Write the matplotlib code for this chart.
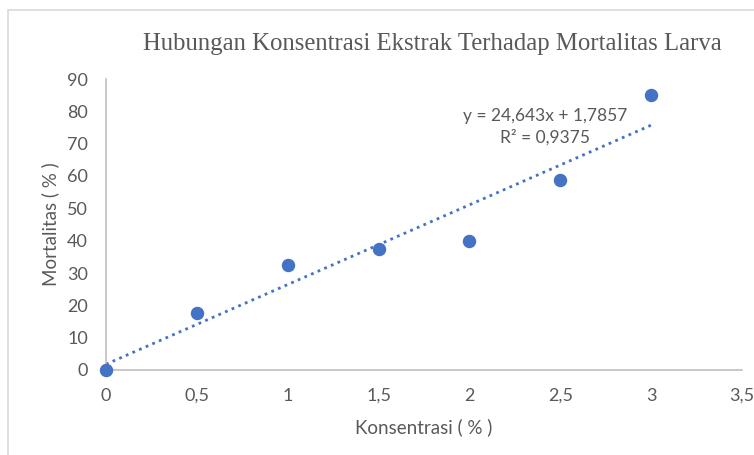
import matplotlib
matplotlib.use("Agg")
import matplotlib.pyplot as plt
import numpy as np
from matplotlib.patches import Rectangle
from matplotlib.ticker import FuncFormatter, MultipleLocator

konsentrasi = [0, 0.5, 1, 1.5, 2, 2.5, 3]
mortalitas = [0, 17.5, 32.5, 37.5, 40, 58.75, 85]

BLUE = "#4472C4"
GRAY = "#595959"
AXIS = "#BFBFBF"
SANS = ["Lato", "DejaVu Sans"]


def comma(v, _pos):
    s = f"{v:g}"
    return s.replace(".", ",")


fig = plt.figure(figsize=(7.54, 4.55), dpi=100)
fig.patches.append(Rectangle((8 / 754, -0.1), 1.2, 1 - 10 / 455 + 0.1,
                             transform=fig.transFigure, fill=False,
                             edgecolor="#D9D9D9", linewidth=1.2))
ax = fig.add_axes([106 / 754, 1 - 370 / 455, (742 - 106) / 754, (370 - 79) / 455])

# linear trend line
slope, intercept = np.polyfit(konsentrasi, mortalitas, 1)
pred = slope * np.array(konsentrasi) + intercept
r2 = 1 - np.sum((np.array(mortalitas) - pred) ** 2) / np.sum(
    (np.array(mortalitas) - np.mean(mortalitas)) ** 2)
xs = np.array([konsentrasi[0], konsentrasi[-1]])
ax.plot(xs, slope * xs + intercept, linestyle=(0, (1, 1.6)), color=BLUE,
        linewidth=2, zorder=2)

ax.scatter(konsentrasi, mortalitas, s=75, color=BLUE, zorder=3, clip_on=False)

ax.set_xlim(0, 3.5)
ax.set_ylim(0, 90)
ax.xaxis.set_major_locator(MultipleLocator(0.5))
ax.yaxis.set_major_locator(MultipleLocator(10))
ax.xaxis.set_major_formatter(FuncFormatter(comma))
ax.yaxis.set_major_formatter(FuncFormatter(comma))
for side in ["top", "right"]:
    ax.spines[side].set_visible(False)
for side in ["left", "bottom"]:
    ax.spines[side].set_color(AXIS)
    ax.spines[side].set_linewidth(1.2)
ax.tick_params(length=0, labelsize=13, colors=GRAY)
ax.tick_params(axis="x", pad=13)
ax.tick_params(axis="y", pad=13)
for lbl in ax.get_xticklabels() + ax.get_yticklabels():
    lbl.set_family(SANS)

ax.set_xlabel("Konsentrasi ( % )", fontsize=13.5, color=GRAY, family=SANS, labelpad=10)
ax.set_ylabel("Mortalitas ( % )", fontsize=13.5, color=GRAY, family=SANS, labelpad=6)

eq = (f"y = {slope:.3f}x + {intercept:.4f}".replace(".", ",")
      + "\n" + f"R² = {r2:.4f}".replace(".", ","))
ax.text(0.69, 0.835, eq, transform=ax.transAxes, ha="center", va="center",
        multialignment="center", fontsize=12.5, color=GRAY, family=SANS,
        linespacing=1.4)

fig.text(432 / 754, 1 - 44 / 455, "Hubungan Konsentrasi Ekstrak Terhadap Mortalitas Larva",
         ha="center", va="center", fontsize=17.8, color=GRAY,
         family=["Liberation Serif", "DejaVu Serif"])

fig.savefig("out.png", dpi=100)
